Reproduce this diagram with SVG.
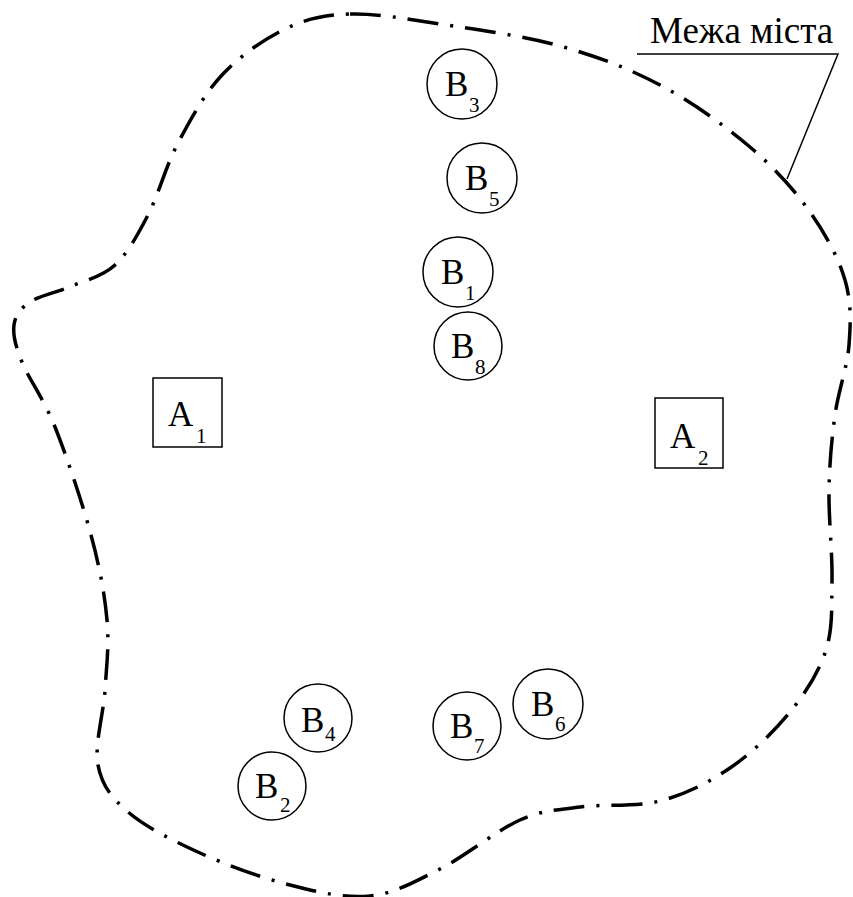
<svg xmlns="http://www.w3.org/2000/svg" width="853" height="897" viewBox="0 0 853 897">
<style>
.bnd{fill:none;stroke:#000;stroke-width:3.5;stroke-dasharray:31 12 3 12}
.n{fill:#fff;stroke:#000;stroke-width:1.5}
.t{font-family:"Liberation Serif","Times New Roman",serif;font-size:35px;fill:#000}
.s{font-family:"Liberation Serif","Times New Roman",serif;font-size:21px;fill:#000}
.lbl{font-family:"Liberation Serif","Times New Roman",serif;font-size:37px;fill:#000}
.ld{fill:none;stroke:#000;stroke-width:1.5}
</style>
<rect width="853" height="897" fill="#fff"/>
<path class="bnd" d="M350,14 C375.8,13.2 405,18.7 440,24 C475,29.3 523.3,35.8 560,46 C596.7,56.2 628.3,68.2 660,85 C691.7,101.8 725,125.8 750,147 C775,168.2 794.2,189.8 810,212 C825.8,234.2 838.5,257.8 845,280 C851.5,302.2 850.7,322.5 849,345 C847.3,367.5 838.3,390.8 835,415 C831.7,439.2 829.5,462.5 829,490 C828.5,517.5 832.5,553.3 832,580 C831.5,606.7 833,628 826,650 C819,672 806,692.3 790,712 C774,731.7 751.7,753.2 730,768 C708.3,782.8 685,794.5 660,801 C635,807.5 603.3,803.8 580,807 C556.7,810.2 543.3,809.7 520,820 C496.7,830.3 465,856.3 440,869 C415,881.7 395,893.3 370,896 C345,898.7 318.3,892.2 290,885 C261.7,877.8 227,865.2 200,853 C173,840.8 145,826.7 128,812 C111,797.3 101.8,785.3 98,765 C94.2,744.7 103.5,714.2 105,690 C106.5,665.8 109.3,645.8 107,620 C104.7,594.2 99.7,567.2 91,535 C82.3,502.8 66.5,455.8 55,427 C43.5,398.2 28.8,379 22,362 C15.2,345 12.7,335 14,325 C15.3,315 20.3,308.5 30,302 C39.7,295.5 57.8,292.2 72,286 C86.2,279.8 102.3,276.8 115,265 C127.7,253.2 137.5,235.3 148,215 C158.5,194.7 165.7,166.3 178,143 C190.3,119.7 204.2,94 222,75 C239.8,56 263.7,39.2 285,29 C306.3,18.8 324.2,14.8 350,14 Z"/>
<g id="connectors">
<polyline class="ld" points="637,54 838,54 787,179"/>
</g>
<text class="lbl" x="650" y="43">Межа міста</text>
<g id="B3"><circle class="n" cx="462" cy="84" r="35"/><text class="t" x="445" y="96">B</text><text class="s" x="469" y="112">3</text></g>
<g id="B5"><circle class="n" cx="482" cy="178" r="35"/><text class="t" x="465" y="190">B</text><text class="s" x="489" y="206">5</text></g>
<g id="B1"><circle class="n" cx="458" cy="272" r="35"/><text class="t" x="441" y="284">B</text><text class="s" x="465" y="300">1</text></g>
<g id="B8"><circle class="n" cx="468" cy="346" r="34"/><text class="t" x="451" y="358">B</text><text class="s" x="475" y="374">8</text></g>
<g id="A1"><rect class="n" x="153" y="378" width="69" height="69"/><text class="t" x="168" y="426">A</text><text class="s" x="196" y="443">1</text></g>
<g id="A2"><rect class="n" x="655" y="398" width="68" height="70"/><text class="t" x="670" y="448">A</text><text class="s" x="698" y="465">2</text></g>
<g id="B4"><circle class="n" cx="318" cy="718" r="34"/><text class="t" x="301" y="732">B</text><text class="s" x="325" y="741">4</text></g>
<g id="B2"><circle class="n" cx="272" cy="786" r="34"/><text class="t" x="255" y="798">B</text><text class="s" x="280" y="812">2</text></g>
<g id="B7"><circle class="n" cx="467" cy="726" r="34"/><text class="t" x="450" y="738">B</text><text class="s" x="474" y="753">7</text></g>
<g id="B6"><circle class="n" cx="548" cy="704" r="35"/><text class="t" x="531" y="716">B</text><text class="s" x="555" y="731">6</text></g>
</svg>
